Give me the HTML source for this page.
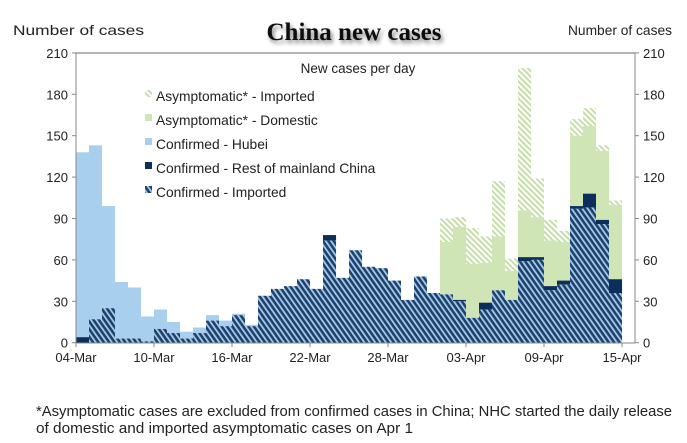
<!DOCTYPE html>
<html><head><meta charset="utf-8"><style>
html,body{margin:0;padding:0;background:#fff;}
svg{display:block;font-family:"Liberation Sans",Arial,sans-serif;}
</style></head><body>
<svg width="687" height="443" viewBox="0 0 687 443" xmlns="http://www.w3.org/2000/svg">
<defs>
<pattern id="hc" patternUnits="userSpaceOnUse" width="4.4" height="4.4" patternTransform="rotate(-35)">
<rect width="4.4" height="4.4" fill="#1d406c"/><rect width="1.8" height="4.4" fill="#a6cbe9"/>
</pattern>
<pattern id="ha" patternUnits="userSpaceOnUse" width="4" height="4" patternTransform="rotate(-45)">
<rect width="4" height="4" fill="#ffffff"/><rect width="2" height="4" fill="#c6dea8"/>
</pattern>
<filter id="sh" x="-10%" y="-30%" width="130%" height="180%">
<feGaussianBlur in="SourceAlpha" stdDeviation="2"/><feOffset dx="2" dy="3"/>
<feComponentTransfer><feFuncA type="linear" slope="0.5"/></feComponentTransfer>
<feMerge><feMergeNode/><feMergeNode in="SourceGraphic"/></feMerge>
</filter>
</defs>
<text x="13" y="35" font-size="14" fill="#222" textLength="131" lengthAdjust="spacingAndGlyphs">Number of cases</text>
<text x="568" y="35" font-size="14" fill="#222" textLength="104" lengthAdjust="spacingAndGlyphs">Number of cases</text>
<text x="354" y="40" font-size="25" font-weight="bold" font-family="'Liberation Serif',serif" text-anchor="middle" fill="#111" filter="url(#sh)">China new cases</text>
<g id="bars"></g>
<line x1="76" y1="53" x2="635" y2="53" stroke="#888" stroke-width="1.2"/>
<line x1="76" y1="53" x2="76" y2="343" stroke="#888"/>
<line x1="635" y1="53" x2="635" y2="343" stroke="#888"/>
<line x1="76" y1="343" x2="635" y2="343" stroke="#888"/>
<g id="ticks" font-size="13" fill="#222"></g>
<text x="358" y="73" font-size="13.5" fill="#222" text-anchor="middle">New cases per day</text>
<g font-size="13.8" fill="#222">
<rect x="145" y="90" width="7" height="7" fill="url(#ha)"/><text x="156" y="101">Asymptomatic* - Imported</text>
<rect x="145" y="114" width="7" height="7" fill="#cfe5b5"/><text x="156" y="125">Asymptomatic* - Domestic</text>
<rect x="145" y="138" width="7" height="7" fill="#a9cfee"/><text x="156" y="149">Confirmed - Hubei</text>
<rect x="145" y="162" width="7" height="7" fill="#0b2f5a"/><text x="156" y="173">Confirmed - Rest of mainland China</text>
<rect x="145" y="186" width="7" height="7" fill="url(#hc)"/><text x="156" y="197">Confirmed - Imported</text>
</g>
<text x="36" y="416" font-size="15" fill="#222" textLength="636" lengthAdjust="spacingAndGlyphs">*Asymptomatic cases are excluded from confirmed cases in China; NHC started the daily release</text>
<text x="36" y="433" font-size="15" fill="#222" textLength="377" lengthAdjust="spacingAndGlyphs">of domestic and imported asymptomatic cases on Apr 1</text>
<script>
var d=[[0,4,138],[17,17,143],[25,25,99],[3,3,44],[3,3,40],[1,1,19],[10,10,24],[7,7,15],[3,3,8],[7,7,11],[16,16,20],[12,12,16],[20,20,21],[12,12,13],[34,34,34],[39,39,39],[41,41,41],[46,46,46],[39,39,39],[74,78,78],[47,47,47],[67,67,67],[55,55,55],[54,54,54],[45,45,45],[31,31,31],[48,48,48],[36,36,36],
[35,35,35,73,90],[30,31,31,84,91],[18,18,18,57,83],[24,29,29,58,77],[38,38,38,77,117],[31,31,31,52,61],[59,62,62,96,199],[60,62,62,91,119],[38,41,41,74,89],[42,45,45,73,81],[97,99,99,150,162],[98,108,108,157,170],[86,89,89,139,143],[36,46,46,100,103]];
var ns="http://www.w3.org/2000/svg",g=document.getElementById('bars');
function y(v){return 342.7-v*1.38;}
function r(x,a,b,f){if(b<=a)return;var e=document.createElementNS(ns,'rect');e.setAttribute('x',x);e.setAttribute('width',13.05);e.setAttribute('y',y(b));e.setAttribute('height',y(a)-y(b));e.setAttribute('fill',f);g.appendChild(e);}
d.forEach(function(v,i){var x=76+13*i;var dm=v[3]||v[2],ai=v[4]||dm;
r(x,v[2],dm,'#cfe5b5');r(x,dm,ai,'url(#ha)');r(x,v[1],v[2],'#a9cfee');r(x,v[0],v[1],'#0b2f5a');r(x,0,v[0],'url(#hc)');});
var t=document.getElementById('ticks');
function tx(x,yy,s,a){var e=document.createElementNS(ns,'text');e.setAttribute('x',x);e.setAttribute('y',yy);e.setAttribute('text-anchor',a);e.textContent=s;t.appendChild(e);}
for(var k=0;k<=7;k++){var v=k*30,yy=y(v)+5;tx(68,yy,v,'end');tx(643,yy,v,'start');
var l=document.createElementNS(ns,'line');l.setAttribute('x1',72);l.setAttribute('x2',76);l.setAttribute('y1',y(v));l.setAttribute('y2',y(v));l.setAttribute('stroke','#888');t.appendChild(l);
l=document.createElementNS(ns,'line');l.setAttribute('x1',635);l.setAttribute('x2',639);l.setAttribute('y1',y(v));l.setAttribute('y2',y(v));l.setAttribute('stroke','#888');t.appendChild(l);}
['04-Mar','10-Mar','16-Mar','22-Mar','28-Mar','03-Apr','09-Apr','15-Apr'].forEach(function(s,i){var x=76+78*i;tx(x,362,s,'middle');
var l=document.createElementNS(ns,'line');l.setAttribute('x1',x);l.setAttribute('x2',x);l.setAttribute('y1',343);l.setAttribute('y2',347);l.setAttribute('stroke','#888');t.appendChild(l);});
</script>
</svg>
</body></html>
